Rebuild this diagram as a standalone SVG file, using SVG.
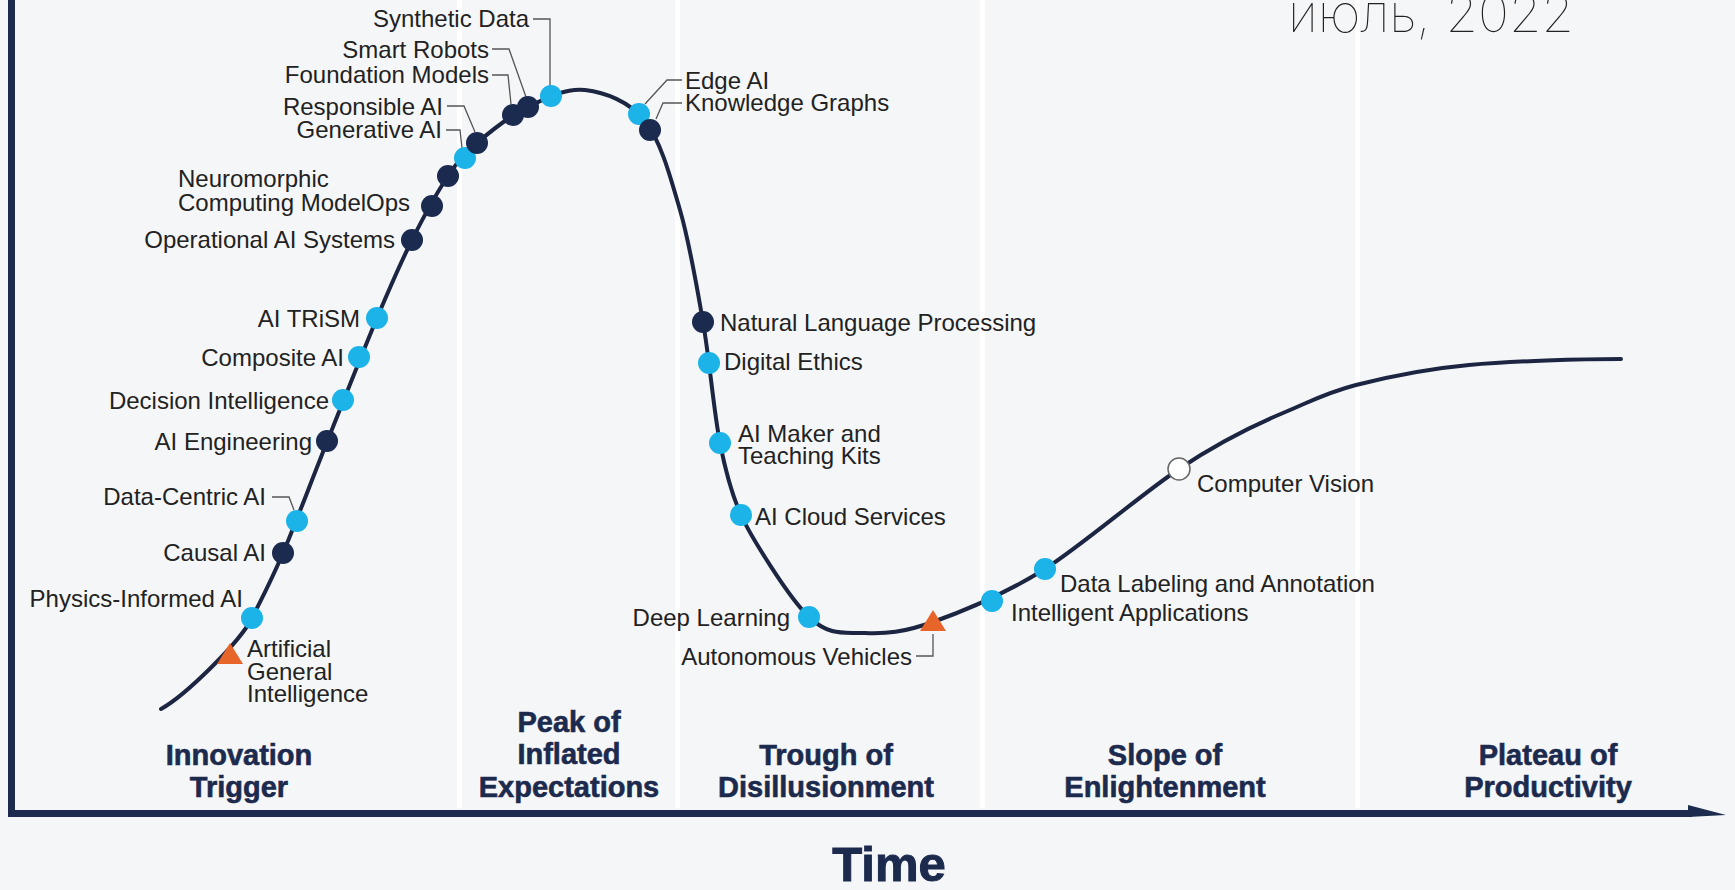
<svg xmlns="http://www.w3.org/2000/svg" width="1735" height="890" viewBox="0 0 1735 890">
<defs>
<style>
.lbl{font-family:"Liberation Sans",Arial,sans-serif;font-size:24px;fill:#222;}
.e{text-anchor:end;}
.hdr{font-family:"Liberation Sans",Arial,sans-serif;font-size:29px;font-weight:bold;fill:#1c2a4e;stroke:#1c2a4e;stroke-width:0.6;text-anchor:middle;}
.ld{fill:none;stroke:#555;stroke-width:1.3;}
.lt{fill:#1bb3e8;}
.dk{fill:#1b2a4f;}
.tri{fill:#e8652a;}
.sep{fill:#ffffff;}
</style>
</defs>
<rect x="0" y="0" width="1735" height="890" fill="#f5f6f8"/>
<g id="columns">
<rect class="sep" x="457" y="0" width="5" height="808"/>
<rect class="sep" x="675" y="0" width="5" height="808"/>
<rect class="sep" x="980" y="0" width="5" height="808"/>
<rect class="sep" x="1355" y="0" width="5" height="808"/>
</g>
<g id="axes">
<rect x="8" y="0" width="7" height="817" fill="#1d2b4f"/>
<rect x="8" y="810" width="1684" height="7" fill="#1d2b4f"/>
<polygon points="1688,805 1726,815 1688,817" fill="#1d2b4f"/>
</g>
<text x="1288" y="32" font-family="Inter,'Open Sans',sans-serif" font-weight="100" font-size="52" fill="#222" textLength="286" lengthAdjust="spacingAndGlyphs">июль, 2022</text>
<g id="connectors">
<path id="hype-curve" fill="none" stroke="#1c2541" stroke-width="4" stroke-linecap="round" d="M161 709 C186 695 240 642 252 618 C264 594 270.5 582.3 283 553 C295.5 523.7 311.3 481.2 327 442 C342.7 402.8 362.8 351.7 377 318 C391.2 284.3 400.2 263.7 412 240 C423.8 216.3 437.2 192.2 448 176 C458.8 159.8 463.7 154.5 477 143 C490.3 131.5 510 115.8 528 107 C546 98.2 565.5 87.7 585 90 C604.5 92.3 629.2 101 645 121 C660.8 141 670.3 176.5 680 210 C689.7 243.5 696.3 283.2 703 322 C709.7 360.8 713.7 410.8 720 443 C726.3 475.2 732 495 741 515 C750 535 788.3 597.3 809 617 C829.7 636.7 844.3 632.2 865 633 C885.7 633.8 903 632.7 933 622 C963 611.3 1004 594.5 1045 569 C1084.3 543.5 1139.7 495.5 1179 469 C1218.3 442.5 1252 426 1283 413 C1312 401 1325 393 1356 385 C1387.3 377 1424.8 369 1469 365 C1513.2 361 1581 359 1621 359"/>
<path class="ld" d="M533 19 H550 V86"/>
<path class="ld" d="M492 49 H509 L526 97"/>
<path class="ld" d="M492 75 H508 L511 104"/>
<path class="ld" d="M447 106 H464 L475 132"/>
<path class="ld" d="M446 130 H460 L462 148"/>
<path class="ld" d="M682 80 H667 L645 104"/>
<path class="ld" d="M682 103 H663 L656 119"/>
<path class="ld" d="M272 497 H289 L294 510"/>
<path class="ld" d="M916 656 H933 V634"/>
</g>
<g id="n-agi"><polygon class="tri" points="230,643 217,664 243,664"/><text class="lbl" x="247" y="657">Artificial<tspan x="247" dy="23">General</tspan><tspan x="247" dy="22">Intelligence</tspan></text></g>
<g id="n-physics"><circle class="lt" cx="252" cy="618" r="11"/><text class="lbl e" x="243" y="607">Physics-Informed AI</text></g>
<g id="n-causal"><circle class="dk" cx="283" cy="553" r="11"/><text class="lbl e" x="266" y="561">Causal AI</text></g>
<g id="n-datacentric"><circle class="lt" cx="297" cy="521" r="11"/><text class="lbl e" x="266" y="505">Data-Centric AI</text></g>
<g id="n-aieng"><circle class="dk" cx="327" cy="441" r="11"/><text class="lbl e" x="312" y="450">AI Engineering</text></g>
<g id="n-decision"><circle class="lt" cx="343" cy="400" r="11"/><text class="lbl e" x="329" y="409">Decision Intelligence</text></g>
<g id="n-composite"><circle class="lt" cx="359" cy="357" r="11"/><text class="lbl e" x="344" y="366">Composite AI</text></g>
<g id="n-trism"><circle class="lt" cx="377" cy="318" r="11"/><text class="lbl e" x="360" y="327">AI TRiSM</text></g>
<g id="n-opai"><circle class="dk" cx="412" cy="240" r="11"/><text class="lbl e" x="395" y="248">Operational AI Systems</text></g>
<g id="n-neuro-modelops"><circle class="dk" cx="448" cy="176" r="11"/><circle class="dk" cx="432" cy="206" r="11"/><text class="lbl" x="178" y="187">Neuromorphic<tspan x="178" dy="24">Computing ModelOps</tspan></text></g>
<g id="n-generative"><circle class="lt" cx="465" cy="158" r="11"/><text class="lbl e" x="442" y="138">Generative AI</text></g>
<g id="n-responsible"><circle class="dk" cx="477" cy="143" r="11"/><text class="lbl e" x="443" y="115">Responsible AI</text></g>
<g id="n-foundation"><circle class="dk" cx="513" cy="115" r="11"/><text class="lbl e" x="489" y="83">Foundation Models</text></g>
<g id="n-robots"><circle class="dk" cx="528" cy="107" r="11"/><text class="lbl e" x="489" y="58">Smart Robots</text></g>
<g id="n-synthetic"><circle class="lt" cx="551" cy="96" r="11"/><text class="lbl e" x="529" y="27">Synthetic Data</text></g>
<g id="n-edge"><circle class="lt" cx="639" cy="114" r="11"/><text class="lbl" x="685" y="89">Edge AI</text></g>
<g id="n-kg"><circle class="dk" cx="650" cy="130" r="11"/><text class="lbl" x="685" y="111">Knowledge Graphs</text></g>
<g id="n-nlp"><circle class="dk" cx="703" cy="322" r="11"/><text class="lbl" x="720" y="331">Natural Language Processing</text></g>
<g id="n-ethics"><circle class="lt" cx="709" cy="363" r="11"/><text class="lbl" x="724" y="370">Digital Ethics</text></g>
<g id="n-maker"><circle class="lt" cx="720" cy="443" r="11"/><text class="lbl" x="738" y="442">AI Maker and<tspan x="738" dy="22">Teaching Kits</tspan></text></g>
<g id="n-cloud"><circle class="lt" cx="741" cy="515" r="11"/><text class="lbl" x="755" y="525">AI Cloud Services</text></g>
<g id="n-deep"><circle class="lt" cx="809" cy="617" r="11"/><text class="lbl e" x="790" y="626">Deep Learning</text></g>
<g id="n-auto"><polygon class="tri" points="933,610 920,631 946,631"/><text class="lbl e" x="912" y="665">Autonomous Vehicles</text></g>
<g id="n-intapp"><circle class="lt" cx="992" cy="601" r="11"/><text class="lbl" x="1011" y="621">Intelligent Applications</text></g>
<g id="n-labeling"><circle class="lt" cx="1045" cy="569" r="11"/><text class="lbl" x="1060" y="592">Data Labeling and Annotation</text></g>
<g id="n-cv"><circle cx="1179" cy="469" r="11" fill="#ffffff" stroke="#666" stroke-width="1.5"/><text class="lbl" x="1197" y="492">Computer Vision</text></g>
<g id="phases">
<text class="hdr" x="239" y="765">Innovation<tspan x="239" dy="32">Trigger</tspan></text>
<text class="hdr" x="569" y="732">Peak of<tspan x="569" dy="32">Inflated</tspan><tspan x="569" dy="33">Expectations</tspan></text>
<text class="hdr" x="826" y="765">Trough of<tspan x="826" dy="32">Disillusionment</tspan></text>
<text class="hdr" x="1165" y="765">Slope of<tspan x="1165" dy="32">Enlightenment</tspan></text>
<text class="hdr" x="1548" y="765">Plateau of<tspan x="1548" dy="32">Productivity</tspan></text>
</g>
<text x="889" y="881" font-family="'Liberation Sans',Arial,sans-serif" font-weight="bold" font-size="49" fill="#1c2a4e" stroke="#1c2a4e" stroke-width="1" text-anchor="middle">Time</text>
</svg>
